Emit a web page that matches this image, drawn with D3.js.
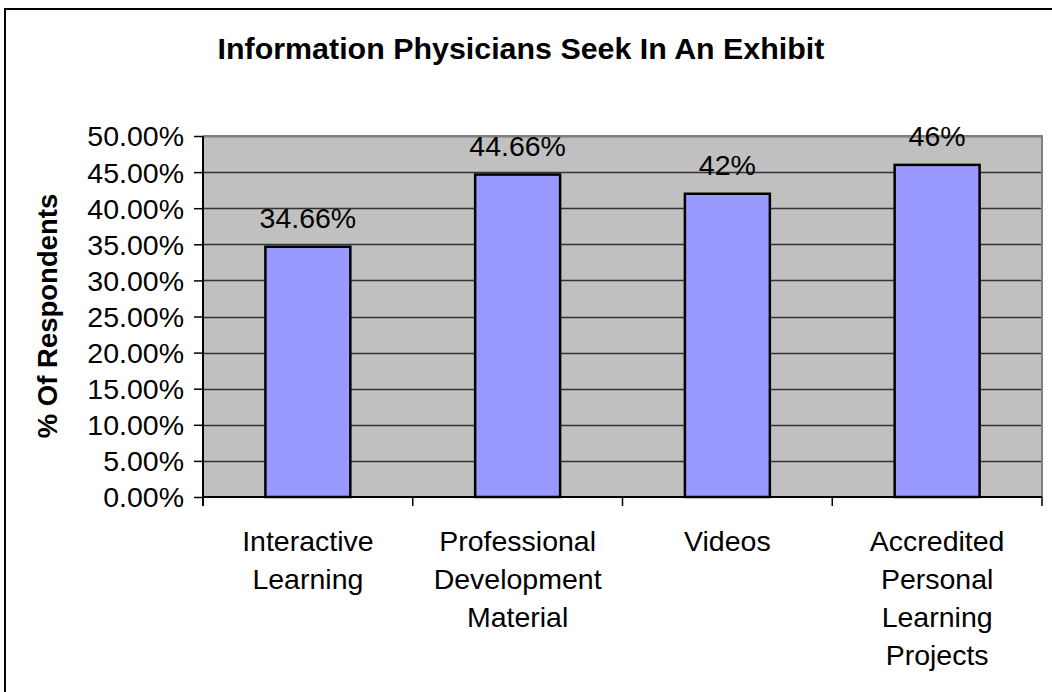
<!DOCTYPE html>
<html><head><meta charset="utf-8">
<script src="https://cdn.jsdelivr.net/npm/d3@7"></script>
<style>body{margin:0;background:#fff;} svg{display:block;font-family:Arial,"Liberation Sans",sans-serif;}</style>
</head><body>
<svg id="c" width="1052" height="692"></svg>
<script>
const categories = [["Interactive","Learning"],["Professional","Development","Material"],["Videos"],["Accredited","Personal","Learning","Projects"]];
const values = [0.3466, 0.4466, 0.42, 0.46];
const valueLabels = ["34.66%","44.66%","42%","46%"];
const yTicks = [0,0.05,0.10,0.15,0.20,0.25,0.30,0.35,0.40,0.45,0.50];
const titleText = "Information Physicians Seek In An Exhibit";
const yTitle = "% Of Respondents";

const svg = d3.select("#c");
const L=203, R=1042, T=136, B=497;
const x = d3.scaleBand().domain(d3.range(values.length)).range([L,R]).paddingInner(0).paddingOuter(0);
const y = d3.scaleLinear().domain([0,0.5]).range([B,T]);
const fs = 28.5;

// outer border
svg.append("rect").attr("x",5).attr("y",9).attr("width",1100).attr("height",750)
  .attr("fill","none").attr("stroke","#000").attr("stroke-width",2);

// plot bg
svg.append("rect").attr("x",L).attr("y",T).attr("width",R-L).attr("height",B-T).attr("fill","#c0c0c0");
// gridlines
svg.append("g").selectAll("line").data(yTicks.slice(1)).join("line")
  .attr("x1",L).attr("x2",R).attr("y1",d=>Math.round(y(d))+0.5).attr("y2",d=>Math.round(y(d))+0.5)
  .attr("stroke","#333").attr("stroke-width",1.5);
// plot border top/right
svg.append("path").attr("d",`M${L},${T} H${R} V${B}`).attr("fill","none").attr("stroke","#808080").attr("stroke-width",2);

// bars
const bw = x.step()*0.405;
svg.append("g").selectAll("rect").data(values).join("rect")
  .attr("x",(d,i)=>x(i)+x.bandwidth()/2-bw/2).attr("width",bw)
  .attr("y",d=>y(d)).attr("height",d=>B-y(d))
  .attr("fill","#9999ff").attr("stroke","#000").attr("stroke-width",2.5);

// value labels
svg.append("g").selectAll("text").data(values).join("text")
  .attr("x",(d,i)=>x(i)+x.bandwidth()/2).attr("y",d=>y(d)-19)
  .attr("text-anchor","middle").attr("font-size",fs).attr("fill","#000")
  .text((d,i)=>valueLabels[i]);

// y axis
const yAxis = d3.axisLeft(y).tickValues(yTicks).tickFormat(d3.format(".2%")).tickSize(9).tickPadding(10);
const gy = svg.append("g").attr("transform",`translate(${L},0)`).call(yAxis);
gy.select(".domain").remove();
gy.selectAll(".tick line").attr("stroke","#000").attr("stroke-width",1.5);
gy.selectAll(".tick text").attr("font-size",fs).attr("font-family","Arial, 'Liberation Sans', sans-serif").attr("fill","#000").attr("dy","0.35em");
svg.append("line").attr("x1",L).attr("x2",L).attr("y1",T).attr("y2",B+9).attr("stroke","#000").attr("stroke-width",2);

// x axis
svg.append("line").attr("x1",L).attr("x2",R).attr("y1",B).attr("y2",B).attr("stroke","#000").attr("stroke-width",2);
svg.append("g").selectAll("line").data(d3.range(1,values.length+1)).join("line")
  .attr("x1",i=>L+i*x.step()).attr("x2",i=>L+i*x.step()).attr("y1",B).attr("y2",B+9)
  .attr("stroke","#000").attr("stroke-width",1.5);
// x labels
const xl = svg.append("g").selectAll("text").data(categories).join("text")
  .attr("text-anchor","middle").attr("font-size",fs).attr("fill","#000");
xl.each(function(lines,i){
  d3.select(this).selectAll("tspan").data(lines).join("tspan")
    .attr("x",x(i)+x.bandwidth()/2).attr("y",(d,j)=>551+j*38).text(d=>d);
});

// title
svg.append("text").attr("x",521).attr("y",59).attr("text-anchor","middle")
  .attr("font-size",30.4).attr("font-weight","bold").text(titleText);
// y title
svg.append("text").attr("transform","translate(57,316) rotate(-90)").attr("text-anchor","middle")
  .attr("font-size",27.5).attr("font-weight","bold").text(yTitle);
</script>
</body></html>
